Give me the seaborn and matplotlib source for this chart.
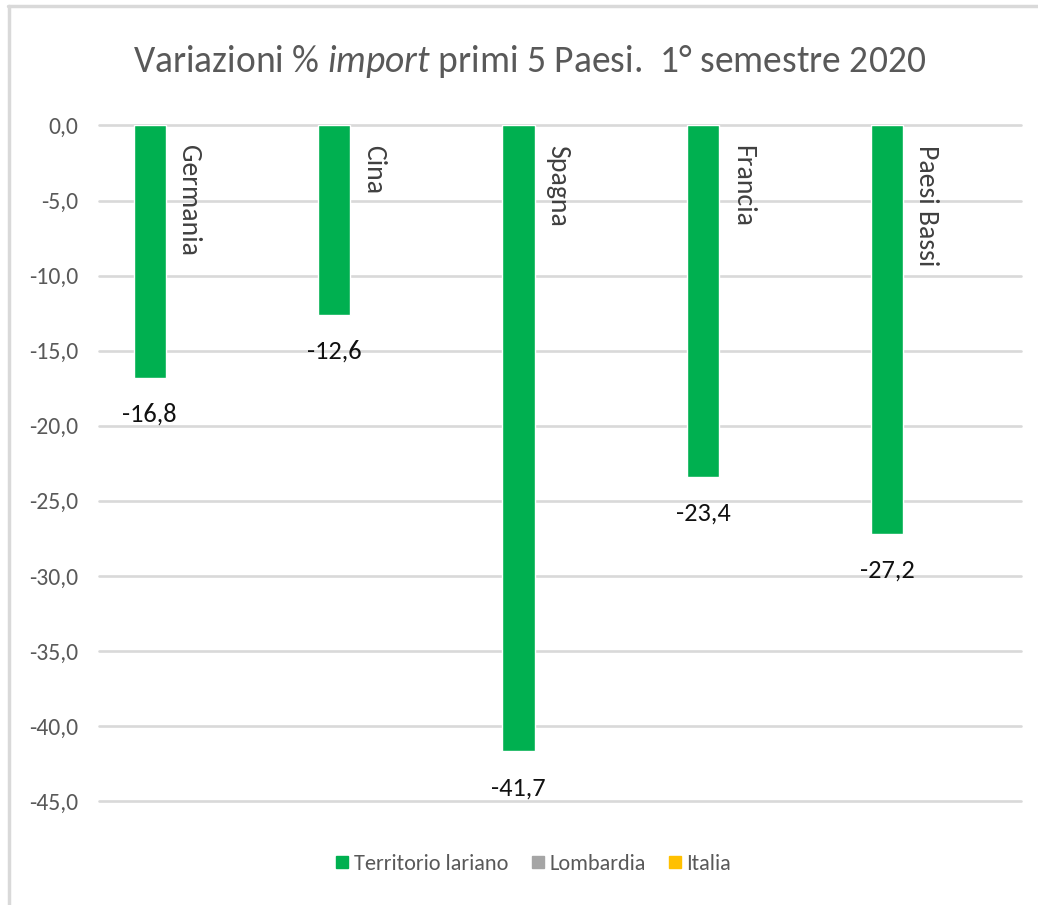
import matplotlib
matplotlib.use("Agg")
import matplotlib.pyplot as plt
import seaborn as sns
import pandas as pd
from matplotlib.lines import Line2D

# ---- data ----
countries = ["Germania", "Cina", "Spagna", "Francia", "Paesi Bassi"]
territorio_lariano = [-16.8, -12.6, -41.7, -23.4, -27.2]
series_names = ["Territorio lariano", "Lombardia", "Italia"]
series_colors = ["#00B050", "#A5A5A5", "#FFC000"]
y_ticks = [0, -5, -10, -15, -20, -25, -30, -35, -40, -45]
y_tick_labels = ["0,0", "-5,0", "-10,0", "-15,0", "-20,0", "-25,0", "-30,0", "-35,0", "-40,0", "-45,0"]
value_labels = [f"{v:.1f}".replace(".", ",") for v in territorio_lariano]
title_text = r"Variazioni % $\mathit{import}$ primi 5 Paesi.  1° semestre 2020"

sns.set_theme(style="white")
plt.rcParams["font.family"] = ["Carlito", "DejaVu Sans"]
plt.rcParams["mathtext.fontset"] = "custom"
plt.rcParams["mathtext.rm"] = "Carlito"
plt.rcParams["mathtext.it"] = "Carlito:italic"

df = pd.DataFrame({"Paese": countries, "Valore": territorio_lariano,
                   "Serie": [series_names[0]] * len(countries)})

W, H = 1038, 905
fig = plt.figure(figsize=(W / 100, H / 100), dpi=100)
fig.patch.set_facecolor("white")
ax = fig.add_axes([99 / W, 1 - 801 / H, (1021 - 99) / W, (801 - 125.5) / H])

sns.barplot(data=df, x="Paese", y="Valore", hue="Serie", hue_order=series_names,
            order=countries, palette=dict(zip(series_names, series_colors)),
            width=0.675, gap=0.227, dodge=True, legend=False, saturation=1,
            errorbar=None, ax=ax)

ax.set_xlim(-0.5, len(countries) - 0.5)
ax.set_ylim(-45, 0)
ax.set_yticks(y_ticks)
ax.set_yticklabels(y_tick_labels)
ax.tick_params(axis="y", length=0, pad=15, labelsize=17, labelcolor="#595959")
ax.tick_params(axis="x", length=0, labelbottom=False)
ax.set_xlabel("")
ax.set_ylabel("")
for s in ax.spines.values():
    s.set_visible(False)
ax.yaxis.grid(True, color="#D9D9D9", linewidth=1.9)
ax.set_axisbelow(True)
for gl in ax.get_ygridlines():
    gl.set_clip_on(False)

# value labels under bars
ax.bar_label(ax.containers[0], labels=value_labels, padding=18, fontsize=19, color="#111111")

# country labels rotated
for i, name in enumerate(countries):
    ax.text(i - 0.012, -1.3, name, rotation=270, va="top", ha="center", fontsize=20,
            color="#404040")

# title
fig.text(0.51, 1 - 62 / H, title_text, ha="center", va="center", fontsize=27, color="#595959")

# legend
handles = [Line2D([], [], marker="s", linestyle="none", markersize=9,
                  markerfacecolor=c, markeredgecolor=c) for c in series_colors]
fig.legend(handles, series_names, loc="center", bbox_to_anchor=(0.514, 1 - 864 / H),
           ncol=3, frameon=False, fontsize=16, labelcolor="#595959",
           handlelength=0.6, handletextpad=0.2, columnspacing=1.05)

# chart border (top and left)
fig.add_artist(Line2D([8 / W, 1], [1 - 6 / H, 1 - 6 / H], transform=fig.transFigure,
                      color="#D9D9D9", lw=2.5))
fig.add_artist(Line2D([9 / W, 9 / W], [0, 1 - 6 / H], transform=fig.transFigure,
                      color="#D9D9D9", lw=2.5))

fig.savefig("out.png", dpi=100, facecolor="white")
